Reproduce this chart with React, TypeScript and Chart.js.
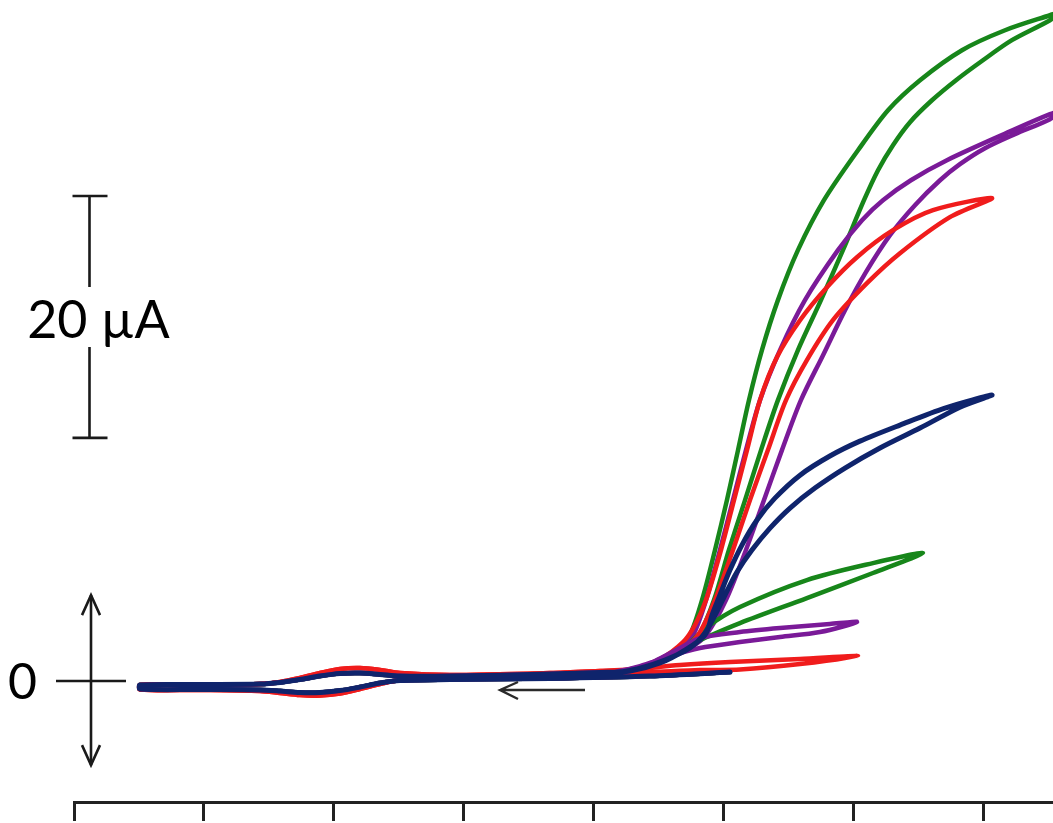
import React, { useEffect, useRef } from "react";
import { Chart, registerables } from "chart.js";

Chart.register(...registerables);

// ---- axis / tick values (potential axis, unlabelled ticks every 100 units) ----
const xTickValues = [0, 100, 200, 300, 400, 500, 600, 700];
const X_MIN = 0;
const X_MAX = 753.1;
const Y_MIN = -10; // µA
const Y_MAX = 56.3; // µA

// ---- annotation values (µA / potential units) ----
const scaleBarRange = [20.1, 40.1]; // 20 µA scale bar
const zeroArrowRange = [-6.95, 7.1];
const scanArrowX = [393.1, 327.7];
const scanArrowY = -0.74;

// ---- shared baseline (negative scan, then positive scan) ----
const baseNegX = [504.6, 443.1, 366.2, 289.2, 250.8, 235.4, 220.0, 204.6, 189.2, 173.8, 158.5, 143.1, 96.9, 50.8];
const baseNegY = [0.74, 0.41, 0.21, 0.12, 0.04, -0.17, -0.5, -0.79, -0.95, -0.95, -0.83, -0.74, -0.7, -0.66];
const basePosX = [50.8, 96.9, 143.1, 158.5, 173.8, 189.2, 204.6, 220.0, 235.4, 250.8, 289.2, 366.2, 404.6, 427.7];
const basePosY = [-0.33, -0.29, -0.25, -0.12, 0.12, 0.41, 0.62, 0.66, 0.54, 0.41, 0.41, 0.58, 0.7, 0.83];
const redBaseNegY = [0.83, 0.58, 0.33, 0.21, 0.08, -0.25, -0.66, -1.03, -1.2, -1.16, -0.99, -0.83, -0.74, -0.7];
const redBasePosY = [-0.33, -0.29, -0.25, -0.08, 0.25, 0.66, 0.99, 1.07, 0.91, 0.66, 0.5, 0.66, 0.83, 0.95];

// ---- oxidation waves (forward branch -> vertex -> reverse branch) ----
const greenBigX = [450.8, 464.6, 473.8, 483.1, 493.1, 502.3, 510.8, 519.2, 529.2, 541.5, 556.9, 576.9, 603.1, 626.2, 650.8, 683.1, 716.2, 750.8, 758.5,
  750.8, 721.5, 699.2, 678.5, 660.0, 643.1, 630.0, 618.5, 607.7, 591.5, 574.6, 556.9, 541.5, 528.5, 516.2, 503.8, 492.3, 480.8, 470.8, 454.6, 435.4, 416.2];
const greenBigY = [1.57, 2.56, 3.8, 6.69, 10.83, 14.96, 19.09, 23.22, 27.36, 31.49, 35.62, 39.75, 43.88, 47.19, 49.67, 52.15, 53.8, 55.04, 55.29,
  54.63, 52.98, 51.32, 49.67, 48.01, 46.2, 44.3, 42.23, 39.75, 35.62, 31.49, 27.36, 23.22, 19.09, 14.96, 10.83, 6.69, 3.8, 2.73, 1.74, 1.07, 0.66];

const purpleBigX = [450.8, 466.2, 476.2, 486.2, 496.9, 506.9, 516.9, 527.7, 543.1, 562.3, 587.7, 606.2, 622.3, 643.8, 671.5, 722.3, 750.8, 758.5,
  750.8, 723.8, 700.8, 681.5, 666.2, 646.9, 627.7, 609.2, 593.1, 576.2, 559.2, 544.6, 530.8, 516.9, 501.5, 486.2, 473.8, 454.6, 435.4, 416.2];
const purpleBigY = [1.74, 2.81, 3.8, 6.69, 10.83, 14.96, 19.09, 23.22, 27.36, 31.49, 35.62, 38.1, 39.75, 41.4, 43.06, 45.54, 46.86, 47.11,
  46.45, 45.21, 44.05, 42.73, 41.4, 39.34, 36.86, 33.8, 30.66, 26.94, 23.22, 19.09, 14.96, 10.83, 6.69, 3.8, 2.73, 1.74, 1.07, 0.66];

const redBigX = [450.8, 468.5, 477.7, 486.2, 497.7, 507.7, 517.7, 527.7, 540.8, 558.5, 579.2, 602.3, 630.0, 660.8, 706.2,
  673.8, 635.4, 610.0, 583.8, 563.8, 547.7, 533.8, 520.0, 506.9, 493.1, 481.5, 472.3, 454.6, 435.4, 416.2];
const redBigY = [1.82, 3.22, 4.63, 6.69, 10.83, 14.96, 19.09, 23.22, 26.78, 29.83, 32.56, 35.04, 37.27, 38.93, 39.92,
  38.35, 35.37, 32.89, 29.83, 26.53, 23.22, 19.09, 14.96, 10.83, 6.69, 4.05, 2.98, 1.9, 1.16, 0.74];

const navyX = [450.8, 470.0, 485.4, 490.8, 496.9, 504.6, 513.8, 525.4, 539.2, 558.5, 581.5, 604.6, 635.4, 670.0, 706.2,
  681.5, 650.8, 620.0, 593.1, 570.0, 550.8, 535.4, 521.5, 510.0, 500.8, 493.1, 485.4, 473.8, 454.6, 435.4, 416.2];
const navyY = [1.49, 2.56, 3.8, 5.45, 7.11, 9.17, 11.24, 13.31, 15.12, 17.02, 18.6, 19.83, 21.16, 22.56, 23.64,
  22.64, 20.91, 19.26, 17.6, 15.95, 14.3, 12.64, 10.83, 9.01, 7.11, 5.45, 3.97, 2.73, 1.74, 1.07, 0.66];

const greenSmallX = [450.8, 470.0, 486.9, 512.3, 563.8, 614.6, 653.1, 614.6, 563.8, 512.3, 486.9, 473.8, 454.6, 435.4, 416.2];
const greenSmallY = [1.65, 2.81, 4.46, 6.12, 8.35, 9.75, 10.58, 8.93, 6.86, 4.79, 3.64, 2.98, 1.9, 1.07, 0.66];

const purpleSmallX = [446.9, 466.2, 481.5, 512.3, 543.1, 581.5, 602.3, 573.8, 543.1, 512.3, 481.5, 458.5, 435.4, 416.2];
const purpleSmallY = [1.65, 2.73, 3.55, 4.05, 4.38, 4.71, 4.88, 4.05, 3.64, 3.22, 2.73, 2.07, 1.24, 0.74];

const redSmallX = [466.2, 504.6, 558.5, 603.1, 558.5, 512.3, 481.5, 443.1, 416.2];
const redSmallY = [1.32, 1.57, 1.82, 2.07, 1.4, 0.95, 0.91, 0.74, 0.66];

const GREEN = "#17861a";
const PURPLE = "#7a1a98";
const RED = "#f01c1c";
const NAVY = "#0f246c";

function toPoints(xs: number[], ys: number[]) {
  return xs.map((v, i) => ({ x: v, y: ys[i] }));
}

function curve(negY: number[], posY: number[], xs: number[], ys: number[]) {
  return [
    ...toPoints(baseNegX, negY),
    ...toPoints(basePosX, posY),
    ...toPoints(xs, ys),
  ];
}

const annotationPlugin = {
  id: "cvAnnotations",
  afterDraw(chart: any) {
    const { ctx } = chart;
    const x = chart.scales.x;
    const y = chart.scales.y;
    ctx.save();
    ctx.strokeStyle = "#1a1a1a";
    ctx.fillStyle = "#000";
    ctx.lineWidth = 2.6;
    ctx.lineCap = "butt";

    // zero marker with double arrow
    const y0 = y.getPixelForValue(0);
    const ax = 91;
    ctx.beginPath();
    ctx.moveTo(56, y0);
    ctx.lineTo(126, y0);
    ctx.stroke();
    const yTop = y.getPixelForValue(zeroArrowRange[1]);
    const yBot = y.getPixelForValue(zeroArrowRange[0]);
    ctx.beginPath();
    ctx.moveTo(ax, yTop);
    ctx.lineTo(ax, yBot);
    ctx.stroke();
    ctx.beginPath();
    ctx.moveTo(ax - 9, yTop + 20);
    ctx.lineTo(ax, yTop);
    ctx.lineTo(ax + 9, yTop + 20);
    ctx.moveTo(ax - 9, yBot - 20);
    ctx.lineTo(ax, yBot);
    ctx.lineTo(ax + 9, yBot - 20);
    ctx.stroke();

    ctx.font = "50px Lato";
    ctx.textAlign = "right";
    ctx.textBaseline = "alphabetic";
    ctx.fillText("0", 37, y0 + 18);

    // 20 µA scale bar
    const sbTop = y.getPixelForValue(scaleBarRange[1]);
    const sbBot = y.getPixelForValue(scaleBarRange[0]);
    const sx = 89.5;
    const mid = (sbTop + sbBot) / 2;
    ctx.beginPath();
    ctx.moveTo(sx, sbTop);
    ctx.lineTo(sx, mid - 30);
    ctx.moveTo(sx, mid + 30);
    ctx.lineTo(sx, sbBot);
    ctx.moveTo(72.5, sbTop);
    ctx.lineTo(107.5, sbTop);
    ctx.moveTo(72.5, sbBot);
    ctx.lineTo(107.5, sbBot);
    ctx.stroke();
    ctx.font = "52px Lato";
    ctx.textAlign = "center";
    ctx.fillText("20 \u00B5A", 98.5, mid + 21);

    // scan direction arrow
    const s0 = x.getPixelForValue(scanArrowX[0]);
    const s1 = x.getPixelForValue(scanArrowX[1]);
    const sy = y.getPixelForValue(scanArrowY);
    ctx.strokeStyle = "#2a2a2a";
    ctx.lineWidth = 2.4;
    ctx.beginPath();
    ctx.moveTo(s0, sy);
    ctx.lineTo(s1, sy);
    ctx.moveTo(s1 + 18, sy - 8);
    ctx.lineTo(s1, sy);
    ctx.lineTo(s1 + 18, sy + 9);
    ctx.stroke();
    ctx.restore();
  },
};

export default function App() {
  const ref = useRef<HTMLCanvasElement | null>(null);

  useEffect(() => {
    document.body.style.margin = "0";
    document.body.style.background = "#ffffff";
    const canvas = ref.current;
    if (!canvas) return;

    const series = [
      { label: "navy", color: NAVY, order: 0, width: 5, data: curve(baseNegY, basePosY, navyX, navyY) },
      { label: "purple small", color: PURPLE, order: 1, width: 4.5, data: curve(baseNegY, basePosY, purpleSmallX, purpleSmallY) },
      { label: "red small", color: RED, order: 2, width: 4.5, data: curve(redBaseNegY, redBasePosY, redSmallX, redSmallY) },
      { label: "red big", color: RED, order: 3, width: 4.5, data: curve(redBaseNegY, redBasePosY, redBigX, redBigY) },
      { label: "green small", color: GREEN, order: 4, width: 4.5, data: curve(baseNegY, basePosY, greenSmallX, greenSmallY) },
      { label: "purple big", color: PURPLE, order: 5, width: 4.5, data: curve(baseNegY, basePosY, purpleBigX, purpleBigY) },
      { label: "green big", color: GREEN, order: 6, width: 4.5, data: curve(baseNegY, basePosY, greenBigX, greenBigY) },
    ];

    const chart = new Chart(canvas, {
      type: "scatter",
      data: {
        datasets: series.map((s) => ({
          label: s.label,
          data: s.data,
          showLine: true,
          borderColor: s.color,
          backgroundColor: s.color,
          borderWidth: s.width,
          pointRadius: 0,
          pointHoverRadius: 0,
          tension: 0.3,
          fill: false,
          order: s.order,
          borderCapStyle: "round",
          borderJoinStyle: "round",
        })),
      },
      options: {
        responsive: false,
        maintainAspectRatio: false,
        animation: false,
        devicePixelRatio: 1,
        events: [],
        layout: { padding: { left: 74, right: 0, top: 0, bottom: 2 } },
        plugins: { legend: { display: false }, tooltip: { enabled: false } },
        scales: {
          x: {
            type: "linear",
            position: "bottom",
            min: X_MIN,
            max: X_MAX,
            afterBuildTicks: (axis: any) => {
              axis.ticks = xTickValues.map((value) => ({ value }));
            },
            ticks: { display: false },
            grid: {
              display: true,
              drawOnChartArea: false,
              drawTicks: true,
              tickLength: 19,
              tickWidth: 3,
              tickColor: "#222",
            },
            border: { display: true, color: "#222", width: 3 },
          },
          y: { type: "linear", display: false, min: Y_MIN, max: Y_MAX },
        },
      },
      plugins: [annotationPlugin],
    } as any);

    return () => chart.destroy();
  }, []);

  return (
    <div style={{ width: 1053, height: 823, position: "relative", background: "#fff" }}>
      <canvas ref={ref} width={1053} height={823} style={{ display: "block" }} />
    </div>
  );
}
